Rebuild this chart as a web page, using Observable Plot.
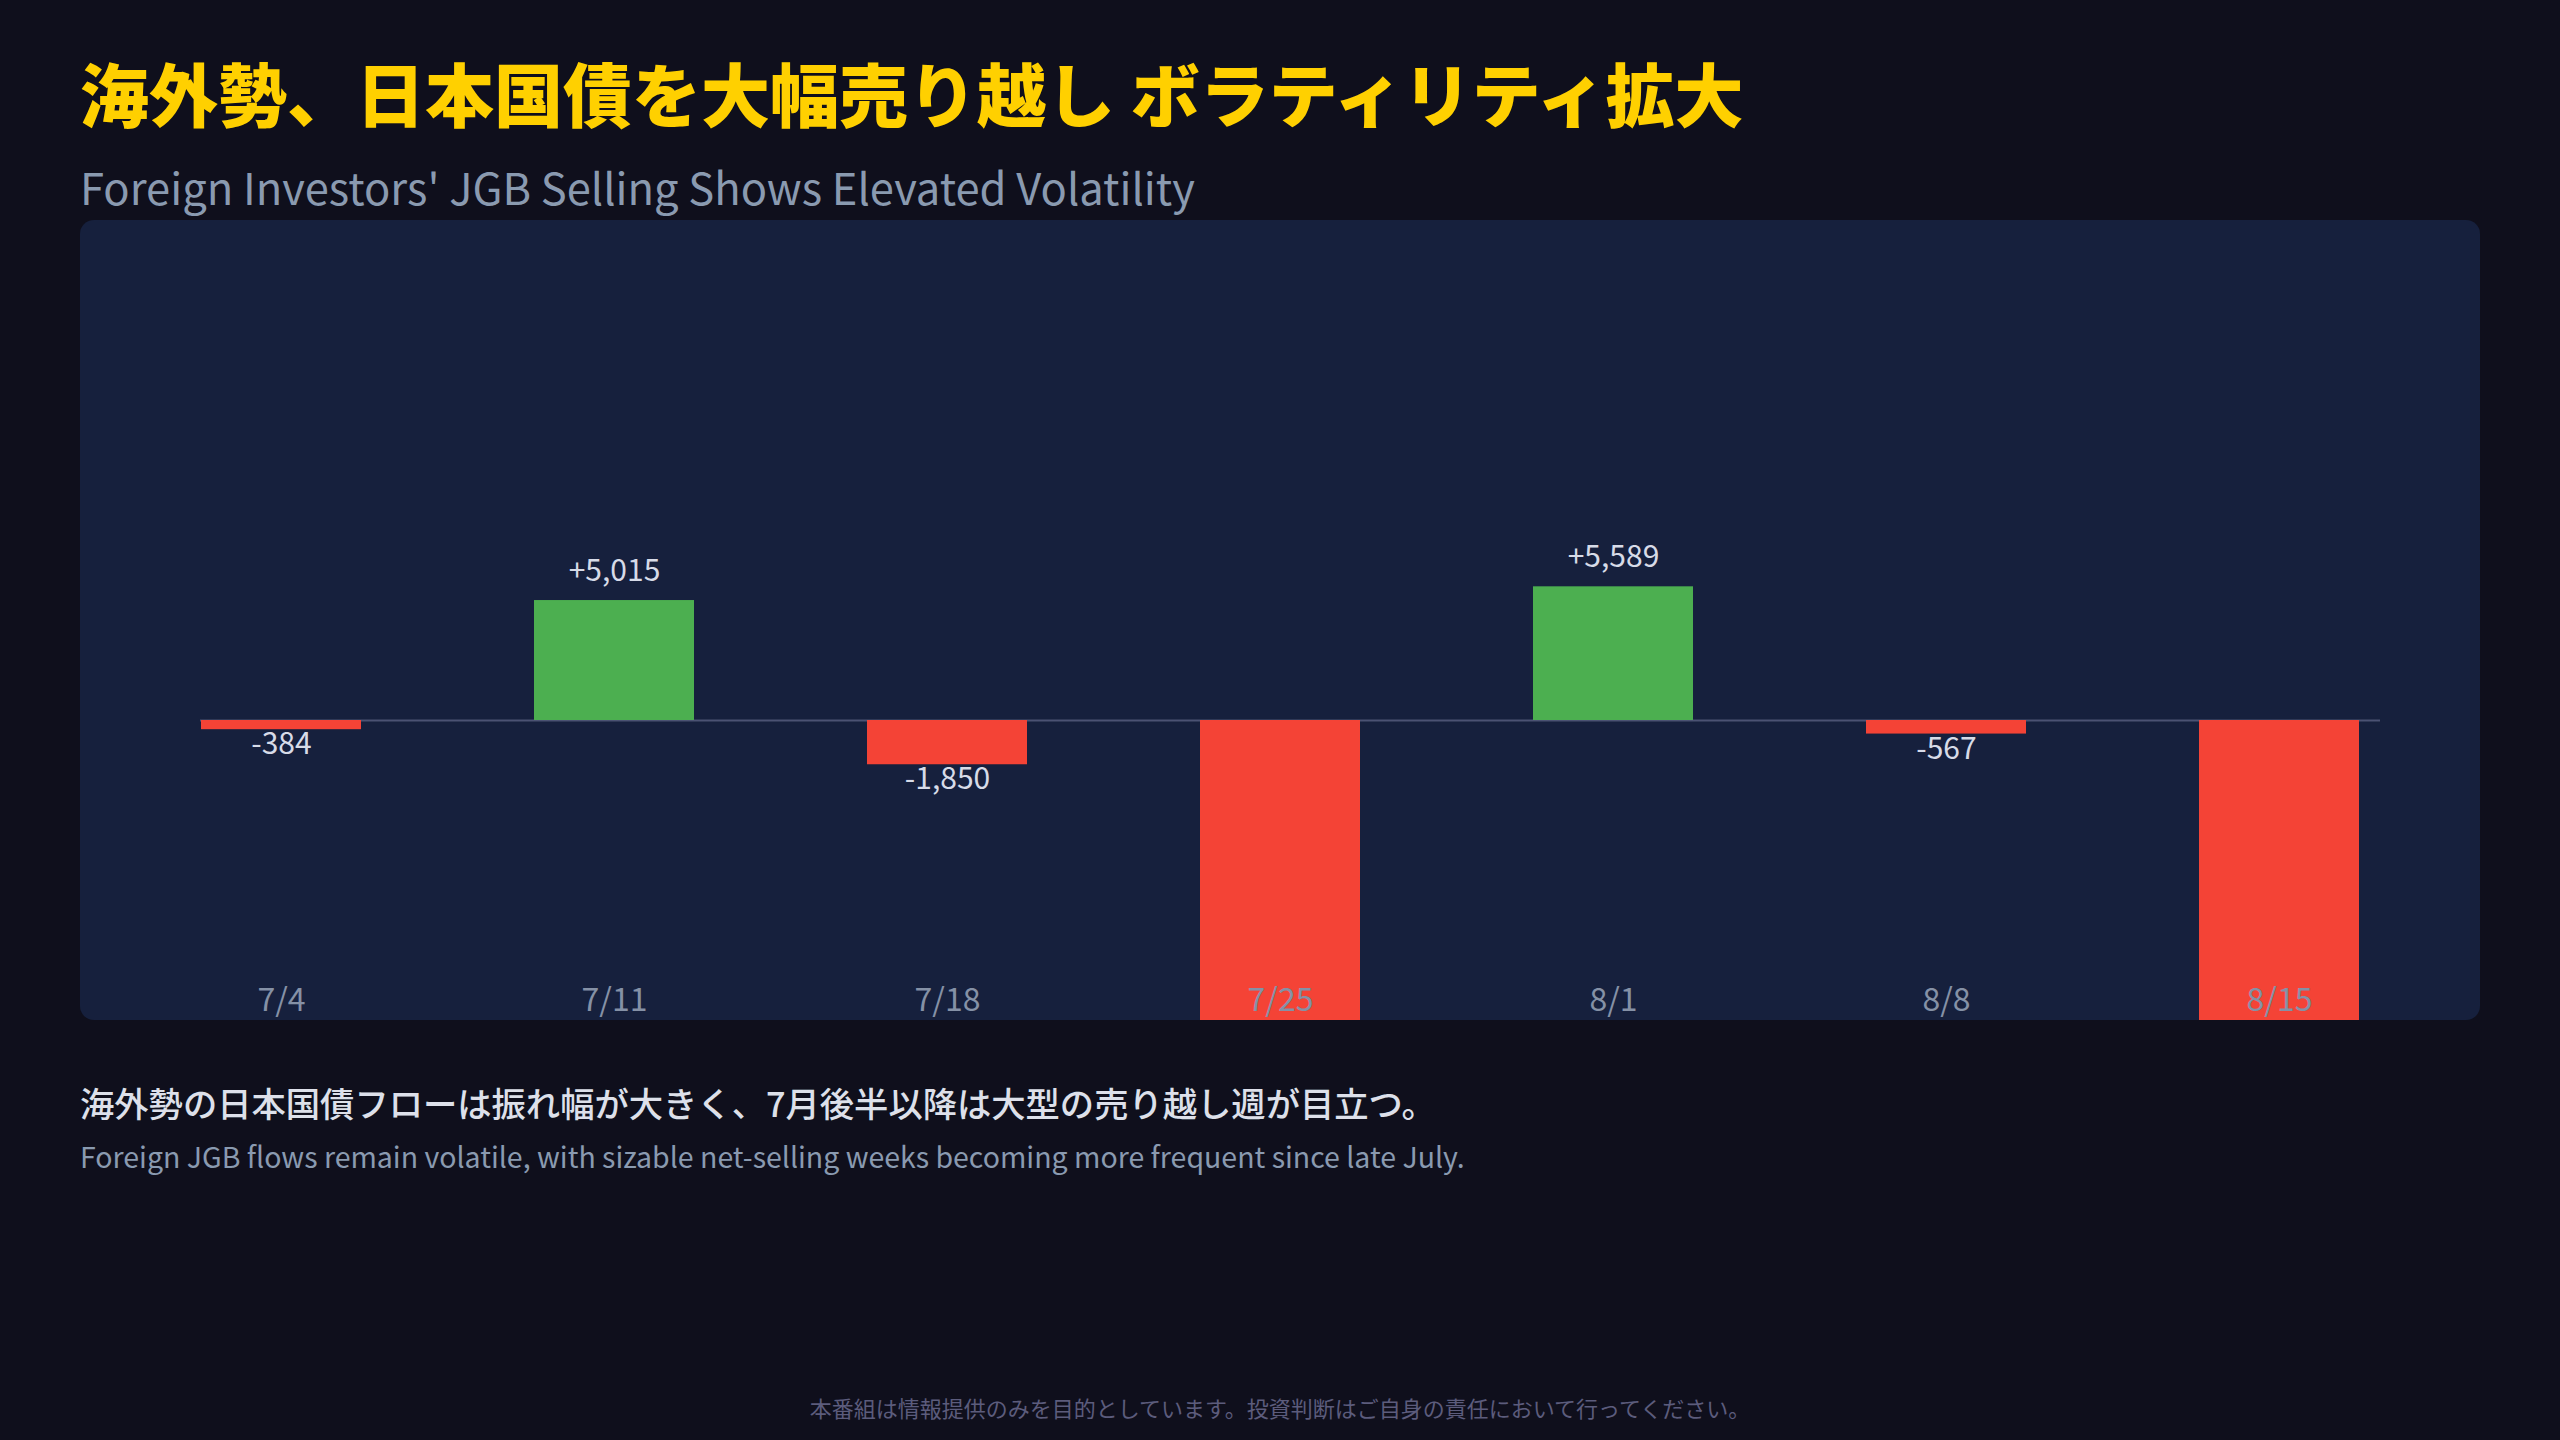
<!DOCTYPE html>
<html>
<head>
<meta charset="utf-8">
<script src="https://cdn.jsdelivr.net/npm/d3@7"></script>
<script src="https://cdn.jsdelivr.net/npm/@observablehq/plot@0.6"></script>
<style>
  html, body { margin: 0; padding: 0; }
  body { width: 2560px; height: 1440px; background: #0f0f1c; position: relative; overflow: hidden;
         font-family: "Noto Sans CJK JP", "Noto Sans", sans-serif; }
  .t { position: absolute; line-height: 1; white-space: nowrap; }
  #title { left: 80px; top: 58px; font-size: 69px; font-weight: 900; color: #ffd000; }
  #subtitle { left: 80px; top: 165px; font-size: 43.5px; color: #8a9ab0; }
  #panel { position: absolute; left: 80px; top: 220px; width: 2400px; height: 800px;
           background: #16203d; border-radius: 14px; overflow: hidden; }
  #panel svg { display: block; overflow: hidden; }
  #cap1 { left: 80px; top: 1085px; font-size: 34.3px; font-weight: 500; color: #dde0ea; }
  #cap2 { left: 80px; top: 1142px; font-size: 28.5px; color: #8a9ab0; }
  #footer { left: 0; width: 2560px; text-align: center; top: 1396px; font-size: 22px; color: #5c5c7c; }
</style>
</head>
<body>
<div class="t" id="title">海外勢、日本国債を大幅売り越し ボラティリティ拡大</div>
<div class="t" id="subtitle">Foreign Investors' JGB Selling Shows Elevated Volatility</div>
<div id="panel"></div>
<div class="t" id="cap1">海外勢の日本国債フローは振れ幅が大きく、7月後半以降は大型の売り越し週が目立つ。</div>
<div class="t" id="cap2">Foreign JGB flows remain volatile, with sizable net-selling weeks becoming more frequent since late July.</div>
<div class="t" id="footer">本番組は情報提供のみを目的としています。投資判断はご自身の責任において行ってください。</div>
<script>
// Weekly foreign net purchases of JGBs (100 million yen)
const weeks = ["7/4", "7/11", "7/18", "7/25", "8/1", "8/8", "8/15"];
const flows = [-384, 5015, -1850, -13500, 5589, -567, -12800];
const yDomain = [-12500, 12500];

const data = weeks.map((w, i) => ({week: w, value: flows[i]}));
const fmt = v => (v > 0 ? "+" : v < 0 ? "-" : "") + d3.format(",")(Math.abs(v));
// labels only where they fall inside the visible range
const inView = d => d.value >= yDomain[0] && d.value <= yDomain[1];
const pos = data.filter(d => d.value >= 0 && inView(d));
const neg = data.filter(d => d.value < 0 && inView(d));

const chart = Plot.plot({
  width: 2400,
  height: 800,
  marginLeft: 120,
  marginRight: 120,
  marginTop: 201,
  marginBottom: 1,
  style: {background: "transparent", fontFamily: "'Noto Sans CJK JP', sans-serif", overflow: "hidden"},
  x: {domain: weeks, paddingInner: 0.52, paddingOuter: 0, axis: null},
  y: {domain: yDomain, axis: null},
  marks: [
    Plot.ruleY([0], {stroke: "#4b5273", strokeWidth: 2, insetRight: -20}),
    Plot.barY(data, {x: "week", y: "value", fill: d => d.value >= 0 ? "#4caf50" : "#f44336"}),
    Plot.text(pos, {x: "week", y: "value", text: d => fmt(d.value), dy: -29, fill: "#d7dbe8", fontSize: 30}),
    Plot.text(neg, {x: "week", y: "value", text: d => fmt(d.value), dy: 15, fill: "#d7dbe8", fontSize: 30}),
    Plot.text(weeks, {x: d => d, frameAnchor: "bottom", dy: -9, fill: "#8591a6", fontSize: 32})
  ]
});
document.getElementById("panel").appendChild(chart);
</script>
</body>
</html>
